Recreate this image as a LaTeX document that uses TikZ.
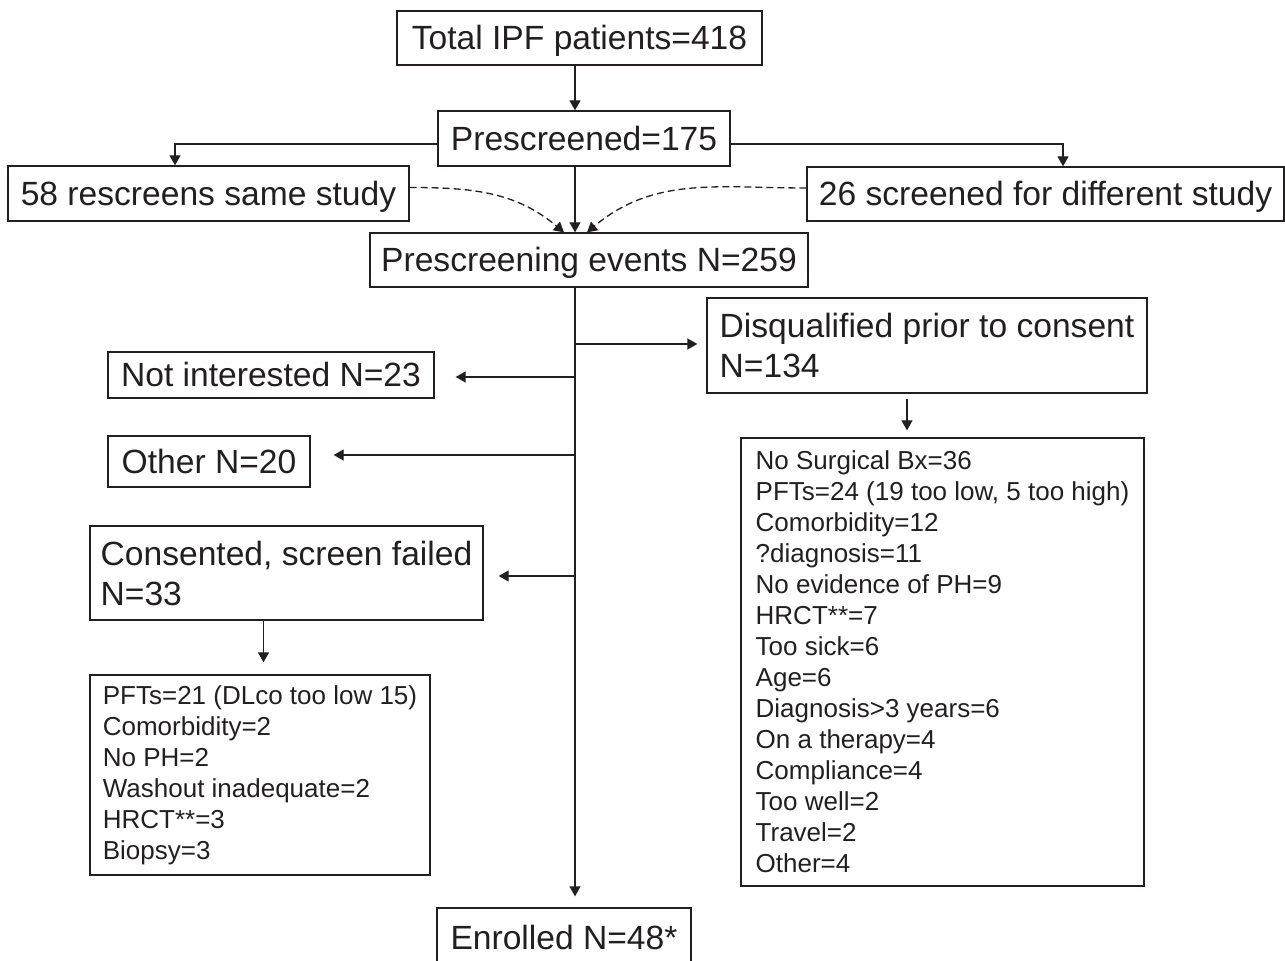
\documentclass[tikz,border=0pt]{standalone}
\usepackage{fontspec}
\setmainfont{Liberation Sans}
\usetikzlibrary{arrows.meta,calc,positioning}
\definecolor{ink}{HTML}{231F20}

\begin{document}
\begin{tikzpicture}[x=0.5pt,y=-0.5pt,>={Triangle[length=5pt,width=5.5pt]},
  box/.style={draw=ink,line width=0.65pt,inner sep=0pt,text=ink,align=left,font=\fontsize{16.8}{20}\selectfont},
  one/.style={box,text height=12pt,text depth=0pt},
  lst/.style={box,font=\fontsize{13}{15.5}\selectfont},
  link/.style={->,draw=ink,line width=0.65pt}]
\useasboundingbox (0,0) rectangle (1285,961);
\coordinate (trunk) at (575,287);
% top of the flow
\node[one,minimum width=182.5pt,minimum height=27pt] (total) at (579.5,38) {Total IPF patients=418};
\node[one,minimum width=146pt,minimum height=27.5pt] (pre) at (584,138.5) {Prescreened=175};
\node[one,minimum width=200.5pt,minimum height=27.5pt] (same) at (208.5,193.5) {58 rescreens same study};
\node[one,minimum width=238.5pt,minimum height=27pt] (diff) at (1045.5,194) {26 screened for different study};
\node[one,minimum width=219pt,minimum height=27pt] (events) at (589,260) {Prescreening events N=259};
% exits
\node[one,minimum width=163pt,minimum height=23pt] (notint) at (271,375) {Not interested N=23};
\node[one,minimum width=101pt,minimum height=25.5pt] (other) at (209,461.5) {Other N=20};
\node[box,minimum width=196.5pt,minimum height=47pt] (cons) at (286.5,573) {Consented, screen failed\\N=33};
\node[box,minimum width=220pt,minimum height=47.5pt] (disq) at (927,345.5) {Disqualified prior to consent\\N=134};
\node[lst,minimum width=170pt,minimum height=100pt] (whyL) at (260,775) {PFTs=21 (DLco too low 15)\\Comorbidity=2\\No PH=2\\Washout inadequate=2\\HRCT**=3\\Biopsy=3};
\node[lst,minimum width=201.5pt,minimum height=224pt] (whyR) at (942.5,662) {No Surgical Bx=36\\PFTs=24 (19 too low, 5 too high)\\Comorbidity=12\\?diagnosis=11\\No evidence of PH=9\\HRCT**=7\\Too sick=6\\Age=6\\Diagnosis>3 years=6\\On a therapy=4\\Compliance=4\\Too well=2\\Travel=2\\Other=4};
\node[one,minimum width=127pt,minimum height=29pt] (enr) at (564,937) {Enrolled N=48*};
% connectors
\draw[link] (total.south -| trunk) -- (pre.north -| trunk);
\draw[link] (pre.south -| trunk) -- (events.north -| trunk);
\draw[link] ([yshift=-2.75pt]pre.west) -| ([xshift=-16.75pt]same.north);
\draw[link] ([yshift=-2.75pt]pre.east) -| ([xshift=8.75pt]diff.north);
\draw[link,dash pattern=on 3.5pt off 2pt] ([yshift=3pt]same.east) to[out=0,in=140] ($(events.north -| trunk)+(-11,0)$);
\draw[link,dash pattern=on 3.5pt off 2pt] ([yshift=3pt]diff.west) to[out=180,in=40] ($(events.north -| trunk)+(12,0)$);
\draw[link,shorten >=5.5pt] (events.south -| trunk) -- (enr.north -| trunk);
\draw[link,shorten >=4.5pt] ([yshift=0.75pt]disq.west -| trunk) -- ([yshift=0.75pt]disq.west);
\draw[link,shorten >=10.5pt] ([yshift=-1pt]notint.east -| trunk) -- ([yshift=-1pt]notint.east);
\draw[link,shorten >=11.5pt] ([yshift=3.25pt]other.east -| trunk) -- ([yshift=3.25pt]other.east);
\draw[link,shorten >=7.5pt] ([yshift=-1.5pt]cons.east -| trunk) -- ([yshift=-1.5pt]cons.east);
\draw[link,shorten <=2.5pt,shorten >=3.5pt] ([xshift=-10pt]disq.south) -- ([xshift=-10pt]disq.south |- whyR.north);
\draw[link,shorten >=6pt] ([xshift=-11.5pt]cons.south) -- ([xshift=-11.5pt]cons.south |- whyL.north);
\end{tikzpicture}
\end{document}
